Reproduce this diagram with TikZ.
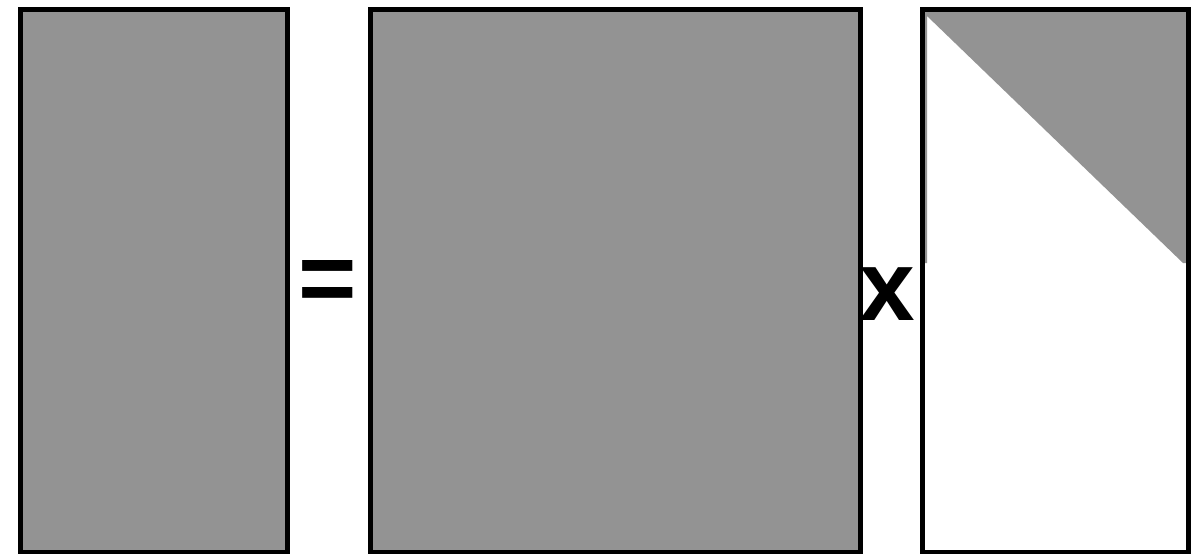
\documentclass[tikz,border=0pt]{standalone}
\usepackage{fontspec}
\setmainfont{Liberation Sans}
\definecolor{matgray}{RGB}{147,147,147}

\begin{document}
\begin{tikzpicture}[
  x=1pt, y=-1pt,
  mat/.style={draw=black, line width=5pt, fill=matgray},
  tri/.style={draw=black, line width=5pt},
  op/.style={inner sep=0pt, font=\fontsize{100}{100}\selectfont\bfseries}
]
  \useasboundingbox (0,0) rectangle (1202,554);
  % left and middle matrices
  \draw[mat] (20,9.5) rectangle (287,552);
  \draw[mat] (370,9.5) rectangle (860,552);
  % upper triangular part of the right matrix
  \fill[matgray] (924,12) -- (1186,12) -- (1186,263) -- (1183,263) -- (927,16) -- (927,263) -- (924,263) -- cycle;
  \draw[tri] (922,9.5) rectangle (1188,552);
  % operators
  \node[op] (eq) at (328,286) {=};
  \node[op] (times) at (887,294) {x};
\end{tikzpicture}
\end{document}
